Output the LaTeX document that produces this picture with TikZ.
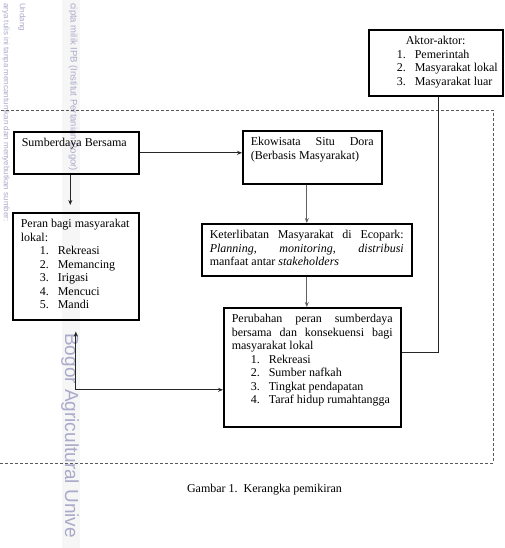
\documentclass[tikz,border=0pt]{standalone}
\usepackage{fontspec}
\setmainfont{Liberation Serif}
\newfontfamily\wmfont{Liberation Sans}
\usetikzlibrary{arrows.meta,positioning}
\definecolor{wmark}{RGB}{170,170,202}
\newcommand{\numline}[3]{\hspace*{#1}\makebox[18pt][l]{#2}\mbox{#3}}
\tikzset{
    >={Stealth[length=5pt,width=4pt]},
    box/.style={draw,line width=1.6pt,anchor=north west,inner xsep=8pt,inner ysep=5.5pt,
        align=justify,text height=9.5pt,font=\fontsize{12}{13.5}\selectfont},
    link/.style={line width=0.9pt,black!85},
    glink/.style={line width=1.3pt,gray!75!black},
    frame/.style={dash pattern=on 3pt off 2pt,line width=0.6pt,gray!70!black},
    wm/.style={wmark,rotate=-90,anchor=west,inner sep=0pt}
}
\begin{document}
\begin{tikzpicture}[x=1pt,y=-1pt]
    \useasboundingbox (0,0) rectangle (504,548);

    % watermark of the scan
    \fill[gray!7] (62,0) rectangle (80,548);
    \node[wm,font=\wmfont\fontsize{8}{8}\selectfont] (wm1) at (6,3) {arya tulis ini tanpa mencantumkan dan menyebutkan sumber:};
    \node[wm,font=\wmfont\fontsize{8}{8}\selectfont] (wm2) at (22,3) {Undang};
    \node[wm,font=\wmfont\fontsize{9.5}{10}\selectfont] (wm3) at (73,3) {cipta milik IPB (Institut Pertanian Bogor)};
    \node[wm,font=\wmfont\fontsize{19}{19}\selectfont] (wm4) at (70,333) {Bogor Agricultural Unive};

    % dashed frame
    \draw[frame] (-2,110) rectangle (493,463);

    % boxes
    \node[box,inner xsep=4pt,text width=126pt,text depth=45.5pt] (aktor) at (368,29) {\hspace*{33pt}Aktor-aktor:\par
        \numline{24pt}{1.}{Pemerintah}\par
        \numline{24pt}{2.}{Masyarakat lokal}\par
        \numline{24pt}{3.}{Masyarakat luar}};
    \node[box,text width=109pt,text depth=21.5pt] (sb) at (13,131) {Sumberdaya Bersama};
    \node[box,text width=123pt,text depth=32.5pt] (eko) at (242,130) {Ekowisata Situ Dora\linebreak (Berbasis Masyarakat)};
    \node[box,text width=194pt,text depth=31.5pt] (ket) at (201,223) {Keterlibatan Masyarakat di Ecopark:\linebreak
        \textit{Planning}, \textit{monitoring}, \textit{distribusi}\linebreak manfaat antar \textit{stakeholders}};
    \node[box,text width=110pt,text depth=86.5pt] (peran) at (12,212) {Peran bagi masyarakat\newline lokal:\par
        \numline{19pt}{1.}{Rekreasi}\par
        \numline{19pt}{2.}{Memancing}\par
        \numline{19pt}{3.}{Irigasi}\par
        \numline{19pt}{4.}{Mencuci}\par
        \numline{19pt}{5.}{Mandi}};
    \node[box,text width=161pt,text depth=98.5pt] (per) at (223,307) {Perubahan peran sumberdaya\linebreak
        bersama dan konsekuensi bagi\linebreak masyarakat lokal\par
        \numline{19pt}{1.}{Rekreasi}\par
        \numline{19pt}{2.}{Sumber nafkah}\par
        \numline{19pt}{3.}{Tingkat pendapatan}\par
        \numline{19pt}{4.}{Taraf hidup rumahtangga}};

    % connectors
    \draw[link,->] (sb.east) -- (sb.east -| eko.west);
    \draw[link,->,shorten >=7pt] ([xshift=-6pt]sb.south) -- ([xshift=-6pt]sb.south |- peran.north);
    \draw[glink,->] (ket.north |- eko.south) -- (ket.north);
    \draw[glink,->] (ket.south) -- (ket.south |- per.north);
    \draw[link,<->,shorten <=11pt] (peran.south) |- ([yshift=-22.5pt]per.west);
    \draw[link] ([xshift=3pt]aktor.south) |- ([yshift=14.5pt]per.east);

    % caption
    \node[font=\fontsize{12}{13.5}\selectfont] (caption) at (264.5,490) {Gambar 1.\ \ Kerangka pemikiran};
\end{tikzpicture}
\end{document}
